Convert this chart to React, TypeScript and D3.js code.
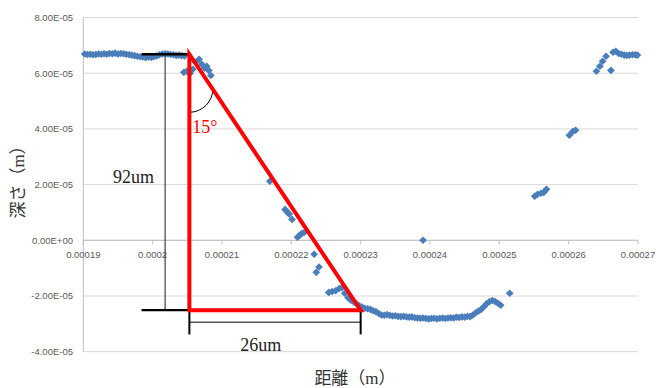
import React from 'react';
import * as d3 from 'd3';

// measured profile, distance and depth in micrometres
const distanceUm = [
  190.2, 190.6, 191.0, 191.4, 191.8, 192.2, 192.6, 193.0, 193.4, 193.8, 194.2, 194.6, 195.0,
  195.4, 195.8, 196.2, 196.6, 197.0, 197.4, 197.8, 198.2, 198.6, 199.0, 199.4, 199.8, 200.2,
  200.6, 201.0, 201.4, 201.8, 202.2, 202.6, 203.0, 203.4, 203.8, 204.2, 204.6,
  204.5, 204.9, 205.4, 205.8, 206.2, 206.7, 207.1, 207.5, 207.8, 208.1, 208.4,
  216.9, 219.1, 219.4, 219.7, 220.1, 220.9, 221.2, 221.5, 221.9, 223.3, 223.6, 224.0,
  225.4, 225.9, 226.4, 226.9, 227.3, 227.7, 228.2, 228.6, 229.0, 229.4,
  229.8, 230.2, 230.6, 231.0, 231.4, 231.8, 232.2, 232.6, 233.0, 233.4, 233.8, 234.2, 234.6,
  235.0, 235.4, 235.8, 236.2, 236.6, 237.0, 237.4, 237.8, 238.2, 238.6, 239.0, 239.4, 239.8,
  240.2, 240.6, 241.0, 241.4, 241.8, 242.2, 242.6, 243.0, 243.4, 243.8, 244.2, 244.6, 245.0,
  245.4, 245.8, 246.2, 246.6, 247.0, 247.4, 247.8, 248.2, 248.6, 249.0, 249.4, 249.8, 250.2,
  251.5, 239.0,
  255.1, 255.5, 256.0, 256.4, 256.8, 260.1, 260.6, 261.0,
  264.0, 264.5, 264.9, 265.4, 266.1, 266.4, 266.8, 267.2, 267.6, 268.0, 268.4, 268.8, 269.2,
  269.6, 269.9,
];
const depthUm = [
  66.9, 66.7, 66.8, 66.6, 66.7, 66.9, 66.8, 67.0, 66.8, 67.1, 67.0, 67.2, 66.9,
  67.1, 67.0, 66.8, 66.6, 66.5, 66.3, 66.1, 65.9, 65.8, 65.6, 65.8, 65.7, 65.9,
  66.2, 66.6, 66.9, 67.0, 66.9, 66.7, 66.6, 66.4, 66.5, 66.3, 66.2,
  60.3, 60.7, 60.0, 61.4, 63.9, 65.0, 63.2, 61.8, 62.5, 61.0, 59.2,
  21.2, 11.1, 10.2, 9.4, 7.5, 1.1, 1.8, 2.4, 2.9, -5.0, -11.5, -9.6,
  -18.7, -18.4, -18.1, -17.3, -17.0, -19.0, -20.6, -21.5, -22.1, -22.8,
  -23.5, -24.0, -24.4, -24.6, -24.8, -25.3, -25.6, -26.3, -26.8, -26.9, -26.7, -26.9, -27.2,
  -27.1, -27.3, -27.4, -27.3, -27.5, -27.6, -27.5, -27.8, -27.9, -28.0, -27.9, -28.1, -28.2,
  -28.1, -28.0, -28.2, -28.0, -27.9, -28.1, -27.9, -27.8, -27.9, -27.6, -27.7, -27.5, -27.6,
  -27.3, -27.4, -26.8, -26.0, -25.4, -24.8, -23.8, -22.7, -22.0, -21.6, -22.0, -22.6, -23.3,
  -19.0, 0.0,
  15.8, 16.5, 16.9, 17.2, 18.3, 37.7, 39.1, 39.5,
  60.7, 62.5, 64.3, 66.1, 61.0, 67.5, 67.9, 67.1, 66.8, 66.5, 66.4, 66.5, 66.6,
  66.6, 66.5,
];

const xTicks = [190, 200, 210, 220, 230, 240, 250, 260, 270];
const xTickLabels = ['0.00019', '0.0002', '0.00021', '0.00022', '0.00023', '0.00024', '0.00025', '0.00026', '0.00027'];
const yTicks = [-40, -20, 0, 20, 40, 60, 80];
const yTickLabels = ['-4.00E-05', '-2.00E-05', '0.00E+00', '2.00E-05', '4.00E-05', '6.00E-05', '8.00E-05'];

// annotation geometry (µm)
const notch = { x: 205.3, top: 66.8, bottom: -25.1, right: 230.0 };
const leftStub = 198.4;
const heightDimX = 201.8;
const widthDimY = -29.4;
const widthTickEnd = -33.8;

const W = 656;
const H = 388;
const serif = '"Liberation Serif", "Noto Sans CJK JP", serif';
const sans = '"Liberation Sans", Arial, sans-serif';

export default function App() {
  const x = d3.scaleLinear().domain([190, 270]).range([83.3, 638]);
  const y = d3.scaleLinear().domain([-40, 80]).range([351.7, 17.5]);
  const diamond = 'M0,-3.8L3.9,0L0,3.8L-3.9,0Z';

  const tri = d3.line()([
    [x(notch.x), y(notch.top)],
    [x(notch.x), y(notch.bottom)],
    [x(notch.right), y(notch.bottom)],
  ]) + 'Z';

  const arcCx = x(notch.x);
  const arcCy = y(54.4);
  const r = 23.5;

  return (
    <svg width={W} height={H} style={{ position: 'absolute', left: 0, top: 0, background: '#fff' }}>
      {/* gridlines */}
      {yTicks.map((t) => (
        <line key={t} x1={x(190)} x2={x(270)} y1={y(t)} y2={y(t)} stroke="#d9d9d9" strokeWidth={1} />
      ))}
      {/* axes */}
      <line x1={x(190)} x2={x(190)} y1={y(80)} y2={y(-40)} stroke="#bfbfbf" />
      <line x1={x(190)} x2={x(270)} y1={y(0)} y2={y(0)} stroke="#bfbfbf" />
      {xTicks.map((t) => (
        <line key={t} x1={x(t)} x2={x(t)} y1={y(0)} y2={y(0) + 4} stroke="#bfbfbf" />
      ))}
      {yTicks.map((t, i) => (
        <text key={t} x={73} y={y(t) + 3.3} textAnchor="end" fontFamily={sans} fontSize={9.5} fill="#595959">
          {yTickLabels[i]}
        </text>
      ))}
      {xTicks.map((t, i) => (
        <text key={t} x={x(t)} y={y(0) + 18} textAnchor="middle" fontFamily={sans} fontSize={9.5} fill="#595959">
          {xTickLabels[i]}
        </text>
      ))}
      <text x={355} y={384} textAnchor="middle" fontFamily={serif} fontSize={17} fill="#333">
        距離（m）
      </text>
      <text transform={`translate(24,${178}) rotate(-90)`} textAnchor="middle" fontFamily={serif} fontSize={17} fill="#333">
        深さ（m）
      </text>

      {/* data */}
      {distanceUm.map((d, i) => (
        <path key={i} d={diamond} transform={`translate(${x(d)},${y(depthUm[i])})`} fill="#4a7ebb" />
      ))}

      {/* annotations */}
      <line x1={x(heightDimX)} x2={x(heightDimX)} y1={y(notch.top)} y2={y(notch.bottom)} stroke="#404040" strokeWidth={1.2} />
      <line x1={x(leftStub)} x2={x(notch.x)} y1={y(notch.top)} y2={y(notch.top)} stroke="#000" strokeWidth={2.5} />
      <line x1={x(leftStub)} x2={x(notch.x)} y1={y(notch.bottom)} y2={y(notch.bottom)} stroke="#000" strokeWidth={2.2} />
      <line x1={x(notch.x)} x2={x(notch.right)} y1={y(widthDimY)} y2={y(widthDimY)} stroke="#000" strokeWidth={1} />
      <line x1={x(notch.x)} x2={x(notch.x)} y1={y(notch.bottom)} y2={y(widthTickEnd)} stroke="#000" strokeWidth={2} />
      <line x1={x(notch.right)} x2={x(notch.right)} y1={y(notch.bottom)} y2={y(widthTickEnd)} stroke="#000" strokeWidth={2} />
      <path
        d={`M${arcCx},${arcCy + r} A${r},${r} 0 0 0 ${arcCx + r},${arcCy}`}
        fill="none"
        stroke="#000"
        strokeWidth={1}
      />
      <path d={tri} fill="none" stroke="#ff0000" strokeWidth={4} strokeLinejoin="miter" />
      <text x={x(194.3)} y={y(20.5)} fontFamily={serif} fontSize={18} fill="#222">92um</text>
      <text x={x(215.6)} y={y(-39.9)} textAnchor="middle" fontFamily={serif} fontSize={18} fill="#222">26um</text>
      <text x={x(205.7)} y={y(38.4)} fontFamily={serif} fontSize={18} fill="#ff0000">15°</text>
    </svg>
  );
}
